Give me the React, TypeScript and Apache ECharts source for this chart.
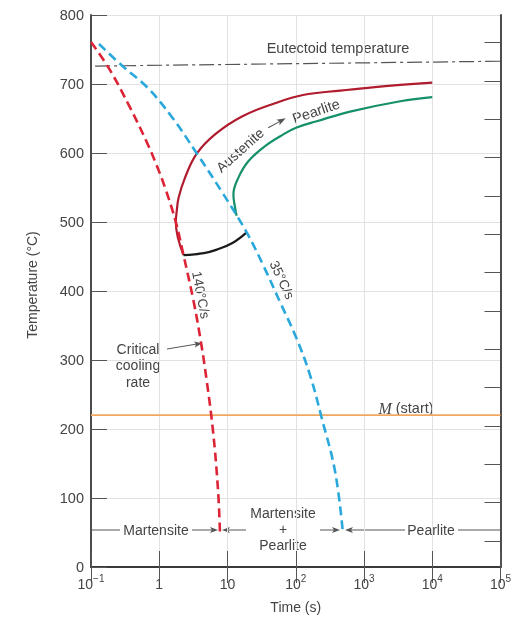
import React, { useEffect, useRef } from 'react';
import * as echarts from 'echarts';

// Cooling curve 140 °C/s (critical cooling rate)
const cool140Time = [0.1, 0.19, 0.3725, 0.655, 0.9175, 1.214, 1.748, 2.266, 3.186, 4.076, 4.958, 6.15, 7.285, 7.76];
const cool140Temp = [761, 720, 666, 616, 582, 550, 500, 452, 385, 326.5, 270, 196, 109.5, 48];

// Cooling curve 35 °C/s
const cool35Time = [0.131, 0.297, 0.654, 1.51, 3.57, 8.3, 19.1, 33.5, 58.8, 103, 162, 240, 376, 487];
const cool35Temp = [758, 725, 696, 653, 599, 543.5, 485, 437, 384, 331, 278, 216, 139, 53];

// Pearlite start curve (red solid)
const startTime = [2.266, 1.748, 1.8, 1.92, 2.38, 3.54, 6.56, 16.3, 51, 128, 450, 1225, 3400, 10000];
const startTemp = [452, 500, 515, 535, 564, 599, 627, 653, 672.5, 684, 690.5, 694.8, 698.6, 702];

// Pearlite finish curve (green)
const finishTime = [13.6, 12.9, 12.2, 14.4, 20.2, 35.5, 65.8, 103, 203, 624, 3400, 10000];
const finishTemp = [509, 521, 540, 564, 588, 610, 627, 637, 646, 660, 675, 681];

// Boundary between start curve and 35 °C/s curve (black)
const boundaryTime = [2.266, 4.5, 7, 12, 19.1];
const boundaryTemp = [452, 455, 460, 470, 485];

// Eutectoid temperature line
const eutectoidTime = [0.115, 100000];
const eutectoidTemp = [726, 733];

// Martensite start line
const msTime = [0.1, 100000];
const msTemp = [220, 220];

// Right axis ticks (°F)
const fahrenheitTicks = [100, 200, 300, 400, 500, 600, 700, 800, 900, 1000, 1100, 1200, 1300, 1400];

const pairs = (xs: number[], ys: number[]) => xs.map((x, i) => [x, ys[i]]);

const FONT = 'Liberation Sans, Arial, sans-serif';
const TXT = '#444';
const ANN = '#555';

const expLabel = (v: number) => {
  const e = Math.round(Math.log10(v));
  if (e === 0) return '{b|1}';
  if (e === 1) return '{b|10}';
  return `{b|10}{s|${e < 0 ? '\u2212' + -e : e}}`;
};

const arrowHead = (x: number, y: number, dir: number) => ({
  type: 'polygon',
  shape: { points: [[x, y], [x - 8 * dir, y - 3], [x - 6 * dir, y], [x - 8 * dir, y + 3]] },
  style: { fill: ANN },
  silent: true,
});
const seg = (x1: number, y1: number, x2: number, y2: number) => ({
  type: 'line',
  shape: { x1, y1, x2, y2 },
  style: { stroke: ANN, lineWidth: 1 },
  silent: true,
});
const txt = (x: number, y: number, text: string, extra: any = {}, rotation = 0) => ({
  type: 'text',
  x,
  y,
  rotation,
  style: {
    text,
    fill: TXT,
    font: `14px ${FONT}`,
    align: 'center',
    verticalAlign: 'middle',
    ...extra,
  },
  silent: true,
});

export default function App() {
  const ref = useRef<HTMLDivElement>(null);
  useEffect(() => {
    const chart = echarts.init(ref.current!, null, { renderer: 'svg' });
    const axisLine = { show: true, lineStyle: { color: '#3a3a3a', width: 1.8 } };
    const tickStyle = { color: '#555', width: 1 };
    const curve = (xs: number[], ys: number[], lineStyle: any, z: number) => ({
      type: 'line',
      data: pairs(xs, ys),
      showSymbol: false,
      smooth: 0.4,
      lineStyle,
      z,
    });
    const option: any = {
      animation: false,
      textStyle: { fontFamily: FONT },
      grid: { left: 91, right: 14.5, top: 15, bottom: 49, containLabel: false },
      xAxis: [
        {
          type: 'log',
          logBase: 10,
          min: 0.1,
          max: 100000,
          splitNumber: 6,
          position: 'bottom',
          axisLine,
          axisTick: { inside: true, length: 16, lineStyle: tickStyle },
          axisLabel: {
            formatter: expLabel,
            margin: 6,
            rich: {
              b: { fontSize: 14, color: TXT, lineHeight: 18, verticalAlign: 'bottom', fontFamily: FONT },
              s: { fontSize: 10, color: TXT, lineHeight: 10, verticalAlign: 'top', fontFamily: FONT },
            },
          },
          splitLine: { show: true, lineStyle: { color: '#e2e2e2', width: 1 } },
          minorTick: { show: false },
          name: 'Time (s)',
          nameLocation: 'middle',
          nameGap: 33,
          nameTextStyle: { fontSize: 14, color: TXT, fontFamily: FONT },
        },
        {
          type: 'log',
          logBase: 10,
          min: 0.1,
          max: 100000,
          splitNumber: 6,
          position: 'top',
          axisLine,
          axisTick: { inside: true, length: 16, lineStyle: tickStyle },
          axisLabel: { show: false },
          splitLine: { show: false },
        },
      ],
      yAxis: [
        {
          type: 'value',
          min: 0,
          max: 800,
          interval: 100,
          position: 'left',
          axisLine,
          axisTick: { inside: true, length: 16, lineStyle: tickStyle },
          axisLabel: { fontSize: 14.5, color: TXT, margin: 7, fontFamily: FONT },
          splitLine: { show: true, lineStyle: { color: '#e2e2e2', width: 1 } },
          name: 'Temperature (°C)',
          nameLocation: 'middle',
          nameGap: 52,
          nameTextStyle: { fontSize: 14, color: TXT, fontFamily: FONT, padding: [0, 0, 0, 12] },
        },
        {
          type: 'value',
          min: 0,
          max: 800,
          position: 'right',
          alignTicks: false,
          axisLine,
          axisTick: {
            inside: true,
            length: 16,
            lineStyle: tickStyle,
            customValues: fahrenheitTicks.map((f) => ((f - 32) * 5) / 9),
          },
          axisLabel: { show: false },
          splitLine: { show: false },
        },
      ],
      series: [
        {
          type: 'line',
          data: pairs(msTime, msTemp),
          showSymbol: false,
          lineStyle: { color: '#f0a860', width: 1.8 },
          z: 2,
        },
        {
          type: 'line',
          data: pairs(eutectoidTime, eutectoidTemp),
          showSymbol: false,
          lineStyle: { color: '#555', width: 1.2, type: [15, 4, 3, 4] },
          z: 2,
        },
        curve(finishTime, finishTemp, { color: '#15906a', width: 2.2 }, 3),
        curve(startTime, startTemp, { color: '#b01c2e', width: 2.2 }, 3),
        curve(boundaryTime, boundaryTemp, { color: '#1a1a1a', width: 2.2 }, 3),
        curve(cool35Time, cool35Temp, { color: '#2aa8dc', width: 2.6, type: [9, 5] }, 4),
        curve(cool140Time, cool140Temp, { color: '#dc2436', width: 2.6, type: [9, 5] }, 4),
      ],
      graphic: [
        txt(338, 48, 'Eutectoid temperature', { font: `14.5px ${FONT}` }),
        {
          type: 'text',
          x: 406,
          y: 408,
          style: {
            text: '{m|M} (start)',
            fill: TXT,
            font: `14.5px ${FONT}`,
            align: 'center',
            verticalAlign: 'middle',
            rich: {
              m: { fontFamily: 'Liberation Serif, serif', fontStyle: 'italic', fontSize: 16, fill: TXT },
            },
          },
          silent: true,
        },
        txt(138, 365, 'Critical\ncooling\nrate', { lineHeight: 16.5 }),
        seg(167, 349, 197, 344),
        {
          type: 'polygon',
          shape: { points: [[202, 343.3], [194, 341.5], [196, 344.2], [195, 347.5]] },
          style: { fill: ANN },
          silent: true,
        },
        txt(201, 295, '140°C/s', { font: `13.5px ${FONT}` }, -1.38),
        txt(282, 280, '35°C/s', { font: `13.5px ${FONT}` }, -1.13),
        txt(240, 150, 'Austenite', { font: `14px ${FONT}` }, 0.73),
        {
          type: 'group',
          x: 277,
          y: 123,
          rotation: 0.5,
          silent: true,
          children: [
            { type: 'line', shape: { x1: -10, y1: 0, x2: 6, y2: 0 }, style: { stroke: ANN, lineWidth: 1 } },
            { type: 'polygon', shape: { points: [[10, 0], [1, -3.2], [3, 0], [1, 3.2]] }, style: { fill: ANN } },
          ],
        },
        txt(316, 111, 'Pearlite', { font: `14.5px ${FONT}` }, 0.33),
        // bottom region annotations
        seg(91, 530, 120, 530),
        txt(156, 530, 'Martensite'),
        seg(192, 530, 214, 530),
        arrowHead(218, 530, 1),
        arrowHead(222, 530, -1),
        seg(226, 530, 246, 530),
        txt(283, 529, 'Martensite\n+\nPearlite', { lineHeight: 16 }),
        seg(320, 530, 336, 530),
        arrowHead(340, 530, 1),
        arrowHead(345, 530, -1),
        seg(349, 530, 405, 530),
        txt(431, 530, 'Pearlite'),
        seg(458, 530, 500, 530),
      ],
    };
    chart.setOption(option);
    return () => chart.dispose();
  }, []);
  return <div ref={ref} style={{ position: 'fixed', left: 0, top: 0, width: 515, height: 619 }} />;
}
